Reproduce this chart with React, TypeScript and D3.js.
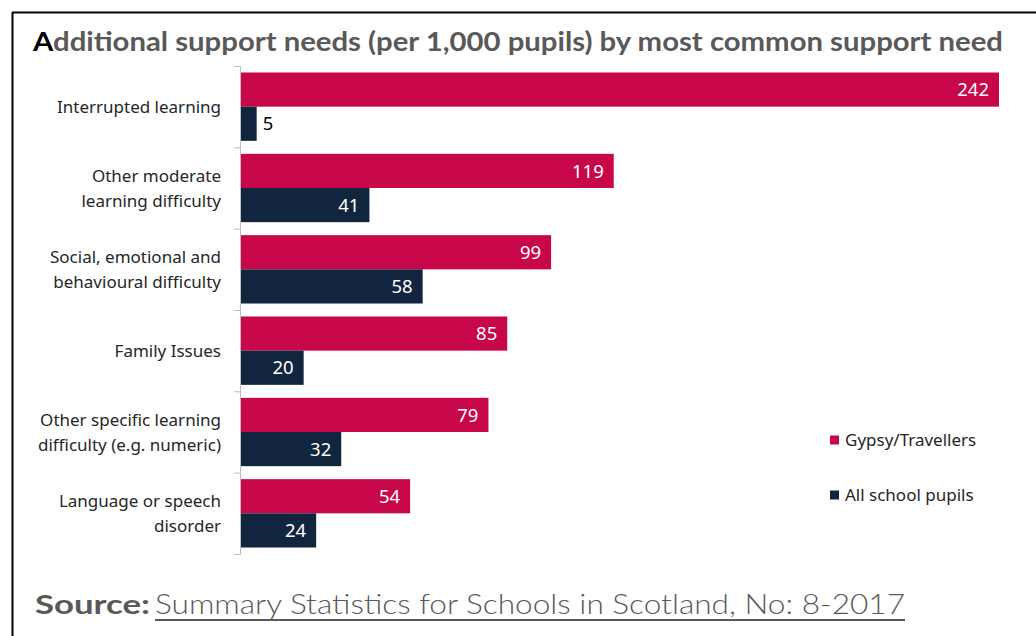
import React from "react";
import * as d3 from "d3";

const categories = [
  ["Interrupted learning"],
  ["Other moderate", "learning difficulty"],
  ["Social, emotional and", "behavioural difficulty"],
  ["Family Issues"],
  ["Other specific learning", "difficulty (e.g. numeric)"],
  ["Language or speech", "disorder"],
];
const gypsyTravellers = [242, 119, 99, 85, 79, 54];
const allPupils = [5, 41, 58, 20, 32, 24];
const seriesNames = ["Gypsy/Travellers", "All school pupils"];
const seriesColors = ["#C8064A", "#12253F"];

const W = 1036;
const H = 636;

export default function App() {
  const keys = categories.map((_, i) => String(i));
  const y = d3.scaleBand<string>().domain(keys).range([66, 554]).paddingInner(0).paddingOuter(0);
  const yi = d3.scaleBand<string>().domain(["0", "1"]).range([0, y.bandwidth()]).paddingInner(0).paddingOuter(0.19);
  const x = d3.scaleLinear().domain([0, 242]).range([241, 999]);
  const series = [gypsyTravellers, allPupils];
  const labelFont = "'Noto Sans', 'Open Sans', sans-serif";
  const boundaries = keys.map((k) => y(k)!).concat([y.range()[1]]);

  return (
    <svg width={W} height={H} style={{ position: "absolute", left: 0, top: 0, background: "#fff" }}>
      <rect x={0} y={0} width={W} height={H} fill="#fff" />
      {/* frame */}
      <line x1={12} y1={12.5} x2={W} y2={12.5} stroke="#000" strokeWidth={2} />
      <line x1={12.5} y1={12} x2={12.5} y2={H} stroke="#000" strokeWidth={2} />
      {/* title */}
      <text
        x={33}
        y={51}
        fontFamily="Lato, 'DejaVu Sans', sans-serif"
        fontWeight="bold"
        fontSize={26}
        fill="#595959"
        textLength={970}
        lengthAdjust="spacingAndGlyphs"
      >
        <tspan fill="#000">A</tspan>dditional support needs (per 1,000 pupils) by most common support need
      </text>
      {/* bars */}
      {series.map((vals, si) =>
        vals.map((v, ci) => {
          const yy = y(keys[ci])! + yi(String(si))!;
          const h = yi.bandwidth();
          const w = x(v) - x(0);
          const inside = w > 40;
          return (
            <g key={`${si}-${ci}`}>
              <rect x={x(0)} y={yy} width={w} height={h} fill={seriesColors[si]} />
              <text
                x={inside ? x(v) - 10 : x(v) + 6}
                y={yy + h / 2}
                dy="0.36em"
                textAnchor={inside ? "end" : "start"}
                fontFamily={labelFont}
                fontSize={18.5}
                fill={inside ? "#fff" : "#000"}
              >
                {v}
              </text>
            </g>
          );
        })
      )}
      {/* axis */}
      <line x1={240.5} y1={boundaries[0]} x2={240.5} y2={boundaries[boundaries.length - 1]} stroke="#bfbfbf" strokeWidth={1} />
      {boundaries.map((b, i) => (
        <line key={i} x1={234} y1={b + 0.5} x2={241} y2={b + 0.5} stroke="#bfbfbf" strokeWidth={1} />
      ))}
      {/* category labels */}
      {categories.map((lines, ci) => {
        const cy = y(keys[ci])! + y.bandwidth() / 2;
        const lh = 25;
        const start = cy - ((lines.length - 1) * lh) / 2;
        return (
          <text key={ci} textAnchor="end" fontFamily={labelFont} fontSize={17} fill="#262626">
            {lines.map((l, li) => (
              <tspan key={li} x={221} y={start + li * lh} dy="0.36em">
                {l}
              </tspan>
            ))}
          </text>
        );
      })}
      {/* legend */}
      {seriesNames.map((n, i) => (
        <g key={n} transform={`translate(830, ${440 + i * 55})`}>
          <rect x={0} y={-4.5} width={9} height={9} fill={seriesColors[i]} />
          <text x={15} y={0} dy="0.36em" fontFamily={labelFont} fontSize={17} fill="#262626">
            {n}
          </text>
        </g>
      ))}
      {/* source */}
      <text x={35} y={614} fontFamily="Lato, 'DejaVu Sans', sans-serif" fontWeight="bold" fontSize={27} fill="#595959" textLength={115} lengthAdjust="spacingAndGlyphs">
        Source:
      </text>
      <text x={155} y={614} fontFamily="Lato, 'DejaVu Sans', sans-serif" fontWeight="300" fontSize={27} fill="#595959" textLength={750} lengthAdjust="spacingAndGlyphs">
        Summary Statistics for Schools in Scotland, No: 8-2017
      </text>
      <line x1={155} y1={620} x2={905} y2={620} stroke="#595959" strokeWidth={2} />
    </svg>
  );
}
